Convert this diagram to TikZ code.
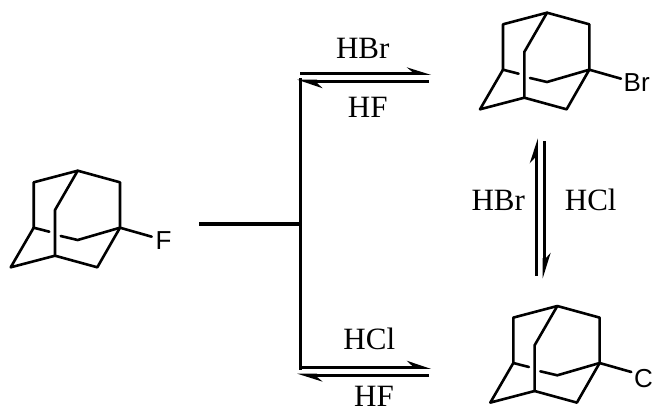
\documentclass[tikz,border=0pt]{standalone}
\usepackage{fontspec}
\setmainfont{Liberation Serif}
\newfontfamily\atomfont{Liberation Sans}
\tikzset{
  x=1pt,y=-1pt,
  bond/.style={line width=2.6pt,line cap=round,line join=round},
  rxn/.style={line width=3.2pt,line cap=butt},
  barb/.style={fill=black,draw=none},
  reagent/.style={anchor=base,inner sep=0pt,font=\fontsize{31}{31}\selectfont},
  atomlabel/.style={anchor=base west,inner sep=0pt,font=\atomfont\fontsize{26}{26}\selectfont},
  adamantane/.pic={
    \coordinate (-t) at (77.7,170.7);
    \coordinate (-ul) at (33.7,182.3);
    \coordinate (-ur) at (120,182.3);
    \coordinate (-m) at (55,210);
    \coordinate (-jl) at (33.7,227.7);
    \coordinate (-jr) at (120,227.7);
    \coordinate (-bc) at (77.7,240);
    \coordinate (-bk) at (55,255.7);
    \coordinate (-fl) at (10.7,267.3);
    \coordinate (-br) at (97.3,267.3);
    \coordinate (-g1) at (49.3,231.7);
    \coordinate (-g2) at (60.7,236);
    \coordinate (-x) at (151.7,236.7);
    \draw[bond] (-jl) -- (-ul) -- (-t) -- (-ur) -- (-jr) -- (-bc) -- (-g2);
    \draw[bond] (-jl) -- (-g1);
    \draw[bond] (-t) -- (-m) -- (-bk) -- (-br) -- (-jr) -- (-x);
    \draw[bond] (-jl) -- (-fl) -- (-bk);
  }
}
\begin{document}
\begin{tikzpicture}
\useasboundingbox (0,0) rectangle (652,410);
\pic (mf) at (0,0) {adamantane};
\pic (mb) at (469.3,-158) {adamantane};
\pic (mc) at (479.6,135.3) {adamantane};
\node[atomlabel] (lf) at (155.5,249) {F};
\node[atomlabel] (lb) at (623.5,91.5) {Br};
\node[atomlabel] (lc) at (634,387) {C};
% branch
\coordinate (start) at (199,224);
\coordinate (branch) at (300.3,224);
\coordinate (topend) at (300.3,78);
\coordinate (botend) at (300.3,370);
\draw[rxn] (start) -- (branch);
\draw[rxn] (topend) -- (botend);
% top equilibrium
\coordinate (a1) at (300,73.3); \coordinate (a2) at (414,73.3);
\coordinate (a3) at (429,81.3); \coordinate (a4) at (314,81.3);
\draw[rxn] (a1) -- (a2);
\fill[barb] (431,74.9) -- (406.7,67.3) -- (412,71.7) -- (412,74.9) -- cycle;
\draw[rxn] (a3) -- (a4);
\fill[barb] (297.3,79.7) -- (322.7,88.3) -- (317,82.9) -- (317,79.7) -- cycle;
% bottom equilibrium
\coordinate (b1) at (300,367.3); \coordinate (b2) at (414,367.3);
\coordinate (b3) at (429,375.3); \coordinate (b4) at (314,375.3);
\draw[rxn] (b1) -- (b2);
\fill[barb] (431,368.9) -- (406.7,360.7) -- (412,365.7) -- (412,368.9) -- cycle;
\draw[rxn] (b3) -- (b4);
\fill[barb] (297.3,373.7) -- (322.7,381.7) -- (317,376.9) -- (317,373.7) -- cycle;
% vertical equilibrium
\coordinate (v1) at (536.3,275.7); \coordinate (v2) at (536.3,155);
\coordinate (v3) at (544.3,141); \coordinate (v4) at (544.3,262);
\draw[rxn] (v1) -- (v2);
\fill[barb] (537.9,138.3) -- (529.7,163.3) -- (534.7,158) -- (537.9,158) -- cycle;
\draw[rxn] (v3) -- (v4);
\fill[barb] (542.7,278.3) -- (550.7,252.7) -- (545.9,258) -- (542.7,258) -- cycle;
% reagents
\node[reagent] (r1) at (362.7,58.5) {HBr};
\node[reagent] (r2) at (367.7,117.5) {HF};
\node[reagent] (r3) at (369.3,349.5) {HCl};
\node[reagent] (r4) at (374,406) {HF};
\node[reagent] (r5) at (498.3,210) {HBr};
\node[reagent] (r6) at (590.7,210) {HCl};
\end{tikzpicture}
\end{document}
